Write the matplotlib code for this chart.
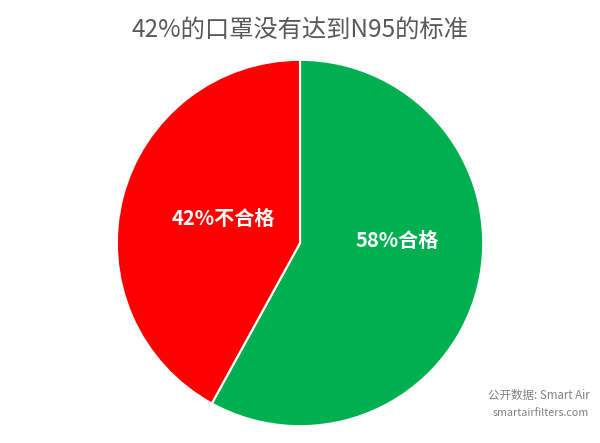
import matplotlib
matplotlib.use("Agg")
import matplotlib.pyplot as plt

plt.rcParams['font.family'] = ['Noto Sans CJK SC', 'DejaVu Sans']

# 数据
labels = ["58%合格", "42%不合格"]
values = [58, 42]
colors = ["#00B050", "#FF0000"]
title = "42%的口罩没有达到N95的标准"
source_lines = ["公开数据: Smart Air", "smartairfilters.com"]

fig = plt.figure(figsize=(6, 4.43), dpi=100)
ax = fig.add_axes([0.1917, 0.0339, 0.6167, 0.8352])

wedges, _ = ax.pie(values, colors=colors, startangle=90, counterclock=False,
                   wedgeprops=dict(edgecolor="white", linewidth=1.5))
ax.set_xlim(-1.01, 1.01)
ax.set_ylim(-1.01, 1.01)
ax.set_aspect("equal")

# 扇区标签
ax.text(0.53, 0.016, labels[0], color="white", fontsize=14.5, fontweight="bold",
        ha="center", va="center")
ax.text(-0.42, 0.135, labels[1], color="white", fontsize=14.5, fontweight="bold",
        ha="center", va="center")

fig.text(0.5, 0.932, title, color="#595959", fontsize=17.5, ha="center", va="center")

fig.text(0.982, 0.108, source_lines[0], color="#808080", fontsize=8.3, ha="right", va="center")
fig.text(0.982, 0.068, source_lines[1], color="#808080", fontsize=7.8, ha="right", va="center")

fig.savefig("out.png", dpi=100)
